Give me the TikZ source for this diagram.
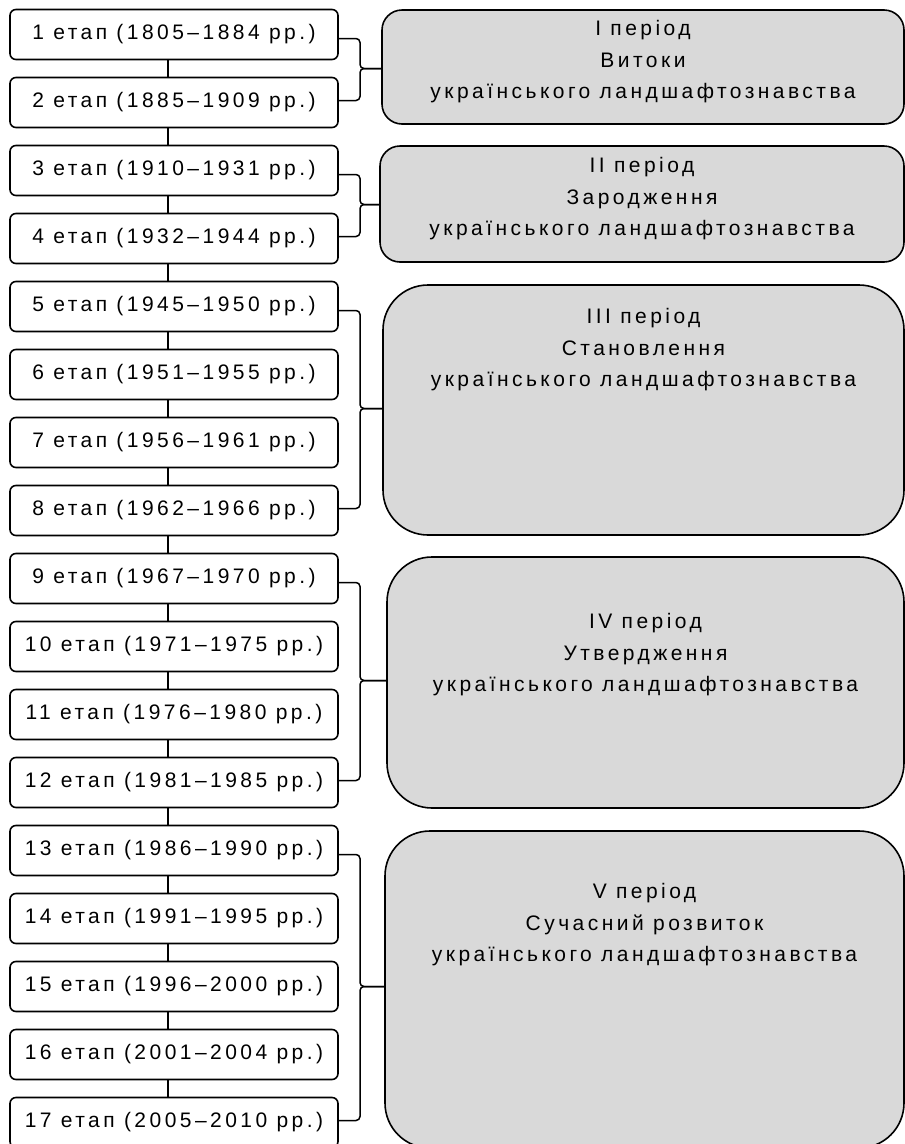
\documentclass[tikz,border=0pt]{standalone}
\usepackage{fontspec}
\setmainfont{Liberation Sans}[LetterSpace=16.5]
\usetikzlibrary{calc}
\definecolor{pgray}{RGB}{217,217,217}
\begin{document}
\begin{tikzpicture}[x=1pt,y=-1pt,
  stage/.style={draw,line width=1.6pt,rounded corners=6pt,minimum width=328pt,minimum height=50pt,inner sep=0pt,font=\fontsize{21}{25}\selectfont},
  periodsmall/.style={draw,line width=1.6pt,fill=pgray,rounded corners=20pt},
  periodbig/.style={draw,line width=1.6pt,fill=pgray,rounded corners=45pt},
  ptext/.style={align=center,inner sep=0pt,font=\fontsize{21}{31.5}\selectfont},
  conn/.style={line width=1.2pt},
  brace/.style={line width=1.5pt,rounded corners=4pt}]
\useasboundingbox (0,0) rectangle (905,1144);
% stages
\foreach \i/\t in {1/{1 етап (1805–1884 рр.)},2/{2 етап (1885–1909 рр.)},3/{3 етап (1910–1931 рр.)},4/{4 етап (1932–1944 рр.)},5/{5 етап (1945–1950 рр.)},6/{6 етап (1951–1955 рр.)},7/{7 етап (1956–1961 рр.)},8/{8 етап (1962–1966 рр.)},9/{9 етап (1967–1970 рр.)},10/{10 етап (1971–1975 рр.)},11/{11 етап (1976–1980 рр.)},12/{12 етап (1981–1985 рр.)},13/{13 етап (1986–1990 рр.)},14/{14 етап (1991–1995 рр.)},15/{15 етап (1996–2000 рр.)},16/{16 етап (2001–2004 рр.)},17/{17 етап (2005–2010 рр.)}}
  \node[stage] (b\i) at (174,{34.5+68*(\i-1)}) {\t};
% vertical connectors
\foreach \i [evaluate=\i as \j using int(\i+1)] in {1,...,16}
  \draw[conn] ([xshift=-6pt]b\i.south) -- ([xshift=-6pt]b\j.north);
% period boxes
\node[periodsmall,minimum width=522pt,minimum height=114pt] (p1) at (643,67) {};
\node[periodsmall,minimum width=524pt,minimum height=116pt] (p2) at (642,204) {};
\node[periodbig,minimum width=521pt,minimum height=250pt] (p3) at (643.5,410) {};
\node[periodbig,minimum width=517pt,minimum height=251pt] (p4) at (645.5,682.5) {};
\node[periodbig,minimum width=519pt,minimum height=317pt] (p5) at (644.5,989.5) {};
% period texts
\node[ptext] (t1) at (643,62) {І період\\Витоки\\українського ландшафтознавства};
\node[ptext] (t2) at (642,199) {ІІ період\\Зародження\\українського ландшафтознавства};
\node[ptext] (t3) at (643.5,350) {ІІІ період\\Становлення\\українського ландшафтознавства};
\node[ptext] (t4) at (645.5,655) {ІV період\\Утвердження\\українського ландшафтознавства};
\node[ptext] (t5) at (644.5,925) {V період\\Сучасний розвиток\\українського ландшафтознавства};
% braces
\coordinate (bx) at (360,0);
\foreach \a/\b/\p in {1/2/1,3/4/2,5/8/3,9/12/4,13/17/5}{
  \coordinate (m\p) at ($(b\a.east)!0.5!(b\b.east)$);
  \draw[brace] ([yshift=-4pt]b\a.east) -- ([yshift=-4pt]b\a.east -| bx) -- (m\p -| bx) -- (m\p -| p\p.west);
  \draw[brace] ([yshift=2pt]b\b.east) -- ([yshift=2pt]b\b.east -| bx) -- (m\p -| bx) -- (m\p -| p\p.west);
}
\end{tikzpicture}
\end{document}
